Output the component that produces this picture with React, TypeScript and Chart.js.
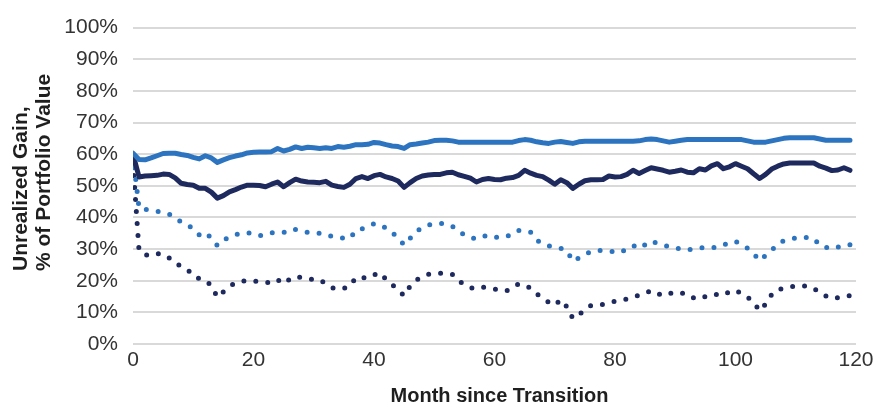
import React, { useEffect, useRef } from "react";
import { Chart, registerables } from "chart.js";

Chart.register(...registerables);

// Month index (x categories)
const MONTHS: number[] = Array.from({ length: 120 }, (_, i) => i);

const X_TICKS = [0, 20, 40, 60, 80, 100, 120];
const Y_TICKS = [0, 10, 20, 30, 40, 50, 60, 70, 80, 90, 100];

const X_TITLE = "Month since Transition";
const Y_TITLE = ["Unrealized Gain,", "% of Portfolio Value"];

// Light blue, solid
const LIGHT_SOLID = [
  60.3, 58.3, 58.2, 58.8, 59.5, 60.2, 60.3, 60.3, 59.9, 59.6,
  59.0, 58.5, 59.5, 58.8, 57.4, 58.2, 58.9, 59.4, 59.8, 60.4,
  60.6, 60.7, 60.7, 60.8, 61.8, 61.0, 61.5, 62.3, 61.8, 62.2,
  62.0, 61.8, 62.0, 61.8, 62.4, 62.2, 62.5, 63.0, 63.0, 63.1,
  63.7, 63.5, 63.0, 62.6, 62.4, 61.8, 63.0, 63.2, 63.5, 63.8,
  64.3, 64.4, 64.4, 64.2, 63.8, 63.8, 63.8, 63.8, 63.8, 63.8,
  63.8, 63.8, 63.8, 63.8, 64.3, 64.6, 64.4, 63.9, 63.6, 63.4,
  63.8, 64.0, 63.7, 63.4, 63.9, 64.1, 64.1, 64.1, 64.1, 64.1,
  64.1, 64.1, 64.1, 64.1, 64.2, 64.6, 64.8, 64.6, 64.2, 63.8,
  64.1, 64.4, 64.6, 64.6, 64.6, 64.6, 64.6, 64.6, 64.6, 64.6,
  64.6, 64.6, 64.2, 63.8, 63.8, 63.8, 64.2, 64.6, 65.0, 65.2,
  65.2, 65.2, 65.2, 65.2, 64.8, 64.4, 64.4, 64.4, 64.4, 64.4,
];

// Navy, solid
const NAVY_SOLID = [
  60.0, 52.8, 53.1, 53.2, 53.3, 53.7, 53.6, 52.5, 50.8, 50.4,
  50.2, 49.2, 49.2, 48.0, 46.1, 46.9, 48.1, 48.8, 49.6, 50.2,
  50.2, 50.1, 49.7, 50.5, 51.2, 49.7, 51.0, 52.1, 51.5, 51.2,
  51.1, 51.0, 51.4, 50.2, 49.8, 49.5, 50.5, 52.3, 52.9, 52.3,
  53.2, 53.6, 52.8, 52.3, 51.5, 49.5, 51.0, 52.3, 53.1, 53.4,
  53.6, 53.6, 54.1, 54.3, 53.5, 53.0, 52.4, 51.2, 52.0, 52.3,
  52.0, 51.9, 52.4, 52.6, 53.3, 54.9, 54.0, 53.3, 52.9, 51.8,
  50.5, 51.9, 51.0, 49.2, 50.5, 51.6, 51.9, 51.9, 52.0, 53.1,
  52.8, 52.9, 53.6, 54.9, 53.9, 54.8, 55.7, 55.3, 54.9, 54.3,
  54.6, 55.0, 54.3, 54.1, 55.4, 55.0, 56.3, 57.0, 55.4, 56.0,
  57.0, 56.2, 55.4, 53.8, 52.3, 53.6, 55.3, 56.2, 56.9, 57.2,
  57.2, 57.2, 57.2, 57.2, 56.2, 55.6, 54.8, 55.0, 55.7, 54.9,
];

// Light blue, dotted
const LIGHT_DOTTED = [
  59.5, 43.0, 42.6, 42.2, 42.0, 41.5, 41.0, 40.0, 38.5, 37.6,
  36.5, 34.5, 35.3, 33.5, 31.1, 32.8, 33.8, 34.6, 35.0, 35.2,
  34.6, 34.2, 34.8, 35.2, 35.2, 35.2, 36.2, 36.2, 35.6, 35.3,
  35.1, 35.0, 34.7, 34.0, 33.6, 33.5, 33.4, 35.9, 36.4, 37.2,
  38.0, 37.8, 36.6, 35.2, 33.6, 31.3, 33.4, 35.5, 36.8, 37.6,
  38.1, 38.1, 38.0, 37.2, 35.8, 34.4, 33.6, 33.2, 34.0, 34.4,
  33.8, 33.6, 34.1, 34.6, 35.9, 35.8, 35.3, 32.8, 31.8, 31.0,
  30.6, 30.2, 29.6, 26.2, 27.2, 28.4, 29.1, 29.6, 29.5, 29.3,
  29.2, 29.0, 30.2, 31.1, 30.2, 31.4, 32.6, 31.8, 31.3, 30.7,
  30.3, 30.0, 29.7, 30.1, 30.4, 30.4, 30.4, 30.6, 31.2, 32.2,
  32.4, 31.5, 30.3, 28.6, 26.4, 28.0, 29.6, 31.6, 32.6, 33.1,
  33.5, 33.8, 33.6, 33.4, 31.2, 30.6, 30.1, 30.6, 31.3, 31.4,
];

// Navy, dotted
const NAVY_DOTTED = [
  57.0, 29.6, 28.2, 28.0, 28.6, 28.4, 27.2, 26.0, 24.3, 23.3,
  22.4, 20.5, 20.0, 18.5, 14.8, 16.5, 18.2, 19.3, 19.8, 20.1,
  19.9, 19.7, 19.5, 19.3, 20.3, 19.1, 20.5, 21.4, 21.0, 20.6,
  20.4, 20.3, 19.0, 17.8, 17.3, 17.6, 18.3, 21.0, 21.0, 20.8,
  21.8, 22.5, 20.4, 18.8, 17.0, 15.3, 18.3, 20.2, 21.2, 22.0,
  22.3, 22.4, 22.3, 22.0, 20.0, 18.8, 17.8, 17.5, 18.0, 17.8,
  17.4, 17.0, 16.8, 18.0, 19.0, 18.6, 17.6, 15.8, 14.6, 13.2,
  12.3, 14.0, 11.8, 8.1, 9.4, 10.6, 12.2, 12.5, 12.5, 13.0,
  13.5, 13.8, 14.2, 14.8, 15.4, 16.0, 16.9, 16.0, 15.3, 16.0,
  16.2, 16.3, 15.0, 14.6, 14.2, 15.0, 15.7, 15.6, 15.4, 16.6,
  17.0, 15.9, 14.8, 13.2, 10.5, 12.6, 15.6, 17.2, 17.6, 18.0,
  18.4, 18.4, 18.3, 17.6, 16.2, 15.2, 14.4, 14.6, 15.1, 15.3,
];

const LIGHT = "#2C74BF";
const NAVY = "#1E2A5E";

const toPoints = (vals: number[]) => MONTHS.map((m, i) => ({ x: m, y: vals[i] }));

const titlePlugin = {
  id: "axisTitles",
  afterDraw(chart: any) {
    const { ctx, chartArea } = chart;
    ctx.save();
    ctx.fillStyle = "#1f1f1f";
    ctx.font = 'bold 20px "Liberation Sans", Arial, sans-serif';
    ctx.textBaseline = "alphabetic";
    ctx.textAlign = "center";
    ctx.fillText(X_TITLE, (chartArea.left + chartArea.right) / 2 + 5, 402);
    ctx.font = 'bold 21px "Liberation Sans", Arial, sans-serif';
    ctx.textAlign = "left";
    const baseXs = [27, 50];
    Y_TITLE.forEach((line, i) => {
      ctx.save();
      ctx.translate(baseXs[i], 271);
      ctx.rotate(-Math.PI / 2);
      ctx.fillText(line, 0, 0);
      ctx.restore();
    });
    ctx.restore();
  },
};

export default function App() {
  const ref = useRef<HTMLCanvasElement | null>(null);

  useEffect(() => {
    if (!ref.current) return;
    const tickFont = { family: '"Liberation Sans", Arial, sans-serif', size: 21 };
    const chart = new Chart(ref.current, {
      type: "line",
      data: {
        datasets: [
          {
            label: "Light solid",
            data: toPoints(LIGHT_SOLID),
            borderColor: LIGHT,
            borderWidth: 5,
            borderJoinStyle: "round",
            borderCapStyle: "round",
            pointRadius: 0,
            tension: 0,
          },
          {
            label: "Navy solid",
            data: toPoints(NAVY_SOLID),
            borderColor: NAVY,
            borderWidth: 5,
            borderJoinStyle: "round",
            borderCapStyle: "round",
            pointRadius: 0,
            tension: 0,
          },
          {
            label: "Light dotted",
            data: toPoints(LIGHT_DOTTED),
            borderColor: LIGHT,
            borderWidth: 5,
            borderDash: [0, 12],
            borderJoinStyle: "round",
            borderCapStyle: "round",
            pointRadius: 0,
            tension: 0,
          },
          {
            label: "Navy dotted",
            data: toPoints(NAVY_DOTTED),
            borderColor: NAVY,
            borderWidth: 5,
            borderDash: [0, 12],
            borderJoinStyle: "round",
            borderCapStyle: "round",
            pointRadius: 0,
            tension: 0,
          },
        ],
      },
      options: {
        responsive: false,
        animation: false,
        devicePixelRatio: 1,
        layout: { padding: { top: 18, right: 28, bottom: 0, left: 0 } },
        plugins: { legend: { display: false }, tooltip: { enabled: false } },
        scales: {
          x: {
            type: "linear",
            min: 0,
            max: 120,
            afterBuildTicks: (s: any) => {
              s.ticks = X_TICKS.map((v) => ({ value: v }));
            },
            afterFit: (s: any) => {
              s.height = 63;
            },
            grid: { display: false, drawTicks: false },
            border: { display: false },
            ticks: { font: tickFont, color: "#333333", padding: 4, maxRotation: 0 },
          },
          y: {
            type: "linear",
            min: 0,
            max: 100,
            afterBuildTicks: (s: any) => {
              s.ticks = Y_TICKS.map((v) => ({ value: v }));
            },
            afterFit: (s: any) => {
              s.width = 133;
            },
            grid: { color: "#d9d9d9", lineWidth: 2, drawTicks: false },
            border: { display: false },
            ticks: {
              font: tickFont,
              color: "#333333",
              padding: 15,
              callback: (v: any) => `${v}%`,
            },
          },
        },
      },
      plugins: [titlePlugin],
    });
    return () => chart.destroy();
  }, []);

  return (
    <div style={{ position: "fixed", left: 0, top: 0, width: 884, height: 407, background: "#fff" }}>
      <canvas ref={ref} width={884} height={407} style={{ display: "block" }} />
    </div>
  );
}
